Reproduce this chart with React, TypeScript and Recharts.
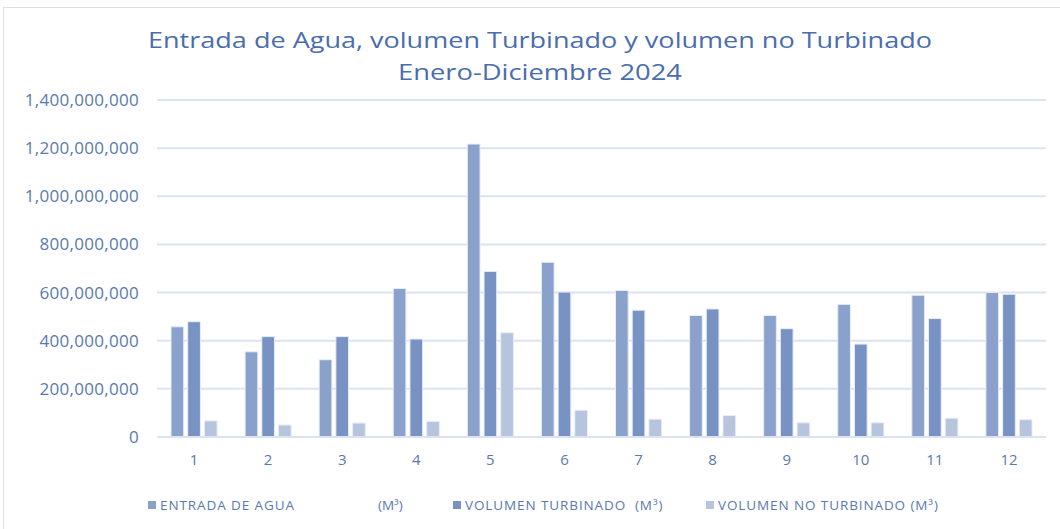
import React from "react";
import { BarChart, Bar, XAxis, YAxis, CartesianGrid, Legend } from "recharts";

const months = ["1", "2", "3", "4", "5", "6", "7", "8", "9", "10", "11", "12"];
const entradaAgua = [458e6, 354e6, 321e6, 617e6, 1217e6, 726e6, 609e6, 505e6, 505e6, 551e6, 589e6, 600e6];
const volumenTurbinado = [479e6, 417e6, 417e6, 407e6, 688e6, 602e6, 527e6, 532e6, 450e6, 386e6, 492e6, 593e6];
const volumenNoTurbinado = [67e6, 50e6, 58e6, 65e6, 433e6, 111e6, 74e6, 89e6, 59e6, 59e6, 78e6, 72e6];
const yTicks = [0, 200e6, 400e6, 600e6, 800e6, 1000e6, 1200e6, 1400e6];
const seriesNames = ["ENTRADA DE AGUA", "VOLUMEN TURBINADO  (M³)", "VOLUMEN NO TURBINADO (M³)"];

const data = months.map((m, i) => ({
  month: m,
  entrada: entradaAgua[i],
  turbinado: volumenTurbinado[i],
  noTurbinado: volumenNoTurbinado[i],
}));

const C1 = "#8AA2CB";
const C2 = "#7893C3";
const C3 = "#B6C4DE";
const TEXT = "#5A78B2";
const FONT = "'Open Sans', 'Liberation Sans', sans-serif";

const fmt = (v: number) => v.toLocaleString("en-US");

const legText: React.CSSProperties = { position: "absolute", top: 0, whiteSpace: "pre", fontSize: 13.5, letterSpacing: 0.9 };

const LegendContent = () => (
  <div style={{ position: "relative", width: 1060, height: 20, fontFamily: FONT, color: TEXT }}>
    <div style={{ position: "absolute", left: 148, top: 5, width: 8, height: 8, background: C1 }} />
    <div style={{ ...legText, left: 160 }}>{seriesNames[0]}</div>
    <div style={{ ...legText, left: 378, letterSpacing: 0 }}>(M³)</div>
    <div style={{ position: "absolute", left: 453, top: 5, width: 8, height: 8, background: C2 }} />
    <div style={{ ...legText, left: 465 }}>{seriesNames[1]}</div>
    <div style={{ position: "absolute", left: 706, top: 5, width: 8, height: 8, background: C3 }} />
    <div style={{ ...legText, left: 718 }}>{seriesNames[2]}</div>
  </div>
);

export default function App() {
  return (
    <div style={{ position: "absolute", left: 0, top: 0, width: 1060, height: 529, background: "#fff", overflow: "hidden" }}>
      <div style={{ position: "absolute", left: 3, top: 7, width: 1070, height: 540, border: "1.5px solid #D9DEE8", boxSizing: "border-box" }} />
      <svg style={{ position: "absolute", left: 0, top: 0 }} width={1060} height={100}>
        <text x={540} y={48} textAnchor="middle" fill="#4A6DAE" fontFamily={FONT} fontSize={22} textLength={784} lengthAdjust="spacingAndGlyphs">
          Entrada de Agua, volumen Turbinado y volumen no Turbinado
        </text>
        <text x={540} y={80} textAnchor="middle" fill="#4A6DAE" fontFamily={FONT} fontSize={22} textLength={284} lengthAdjust="spacingAndGlyphs">
          Enero-Diciembre 2024
        </text>
      </svg>
      <div style={{ position: "absolute", left: 0, top: 0 }}>
        <BarChart
          width={1060}
          height={529}
          data={data}
          margin={{ top: 100, right: 14, bottom: 42, left: 0 }}
          barSize={12.7}
          barGap={4}
        >
          <CartesianGrid vertical={false} stroke="#DCE3F0" strokeWidth={2} />
          <XAxis
            dataKey="month"
            height={30}
            tickLine={false}
            axisLine={{ stroke: "#DCE3F0", strokeWidth: 2 }}
            tickSize={0}
            tickMargin={17}
            tick={{ fill: TEXT, fontSize: 15, fontFamily: FONT }}
          />
          <YAxis
            width={157}
            domain={[0, 1400e6]}
            ticks={yTicks}
            tickFormatter={fmt}
            axisLine={false}
            tickLine={false}
            tickSize={0}
            tickMargin={18}
            tick={{ fill: TEXT, fontSize: 17, fontFamily: FONT, letterSpacing: 0.3 }}
          />
          <Legend verticalAlign="bottom" content={<LegendContent />} wrapperStyle={{ position: "absolute", left: 0, top: 496, width: 1060 }} />
          <Bar dataKey="entrada" fill={C1} stroke="#E8EDF5" strokeWidth={1} isAnimationActive={false} />
          <Bar dataKey="turbinado" fill={C2} stroke="#E8EDF5" strokeWidth={1} isAnimationActive={false} />
          <Bar dataKey="noTurbinado" fill={C3} stroke="#E8EDF5" strokeWidth={1} isAnimationActive={false} />
        </BarChart>
      </div>
    </div>
  );
}
